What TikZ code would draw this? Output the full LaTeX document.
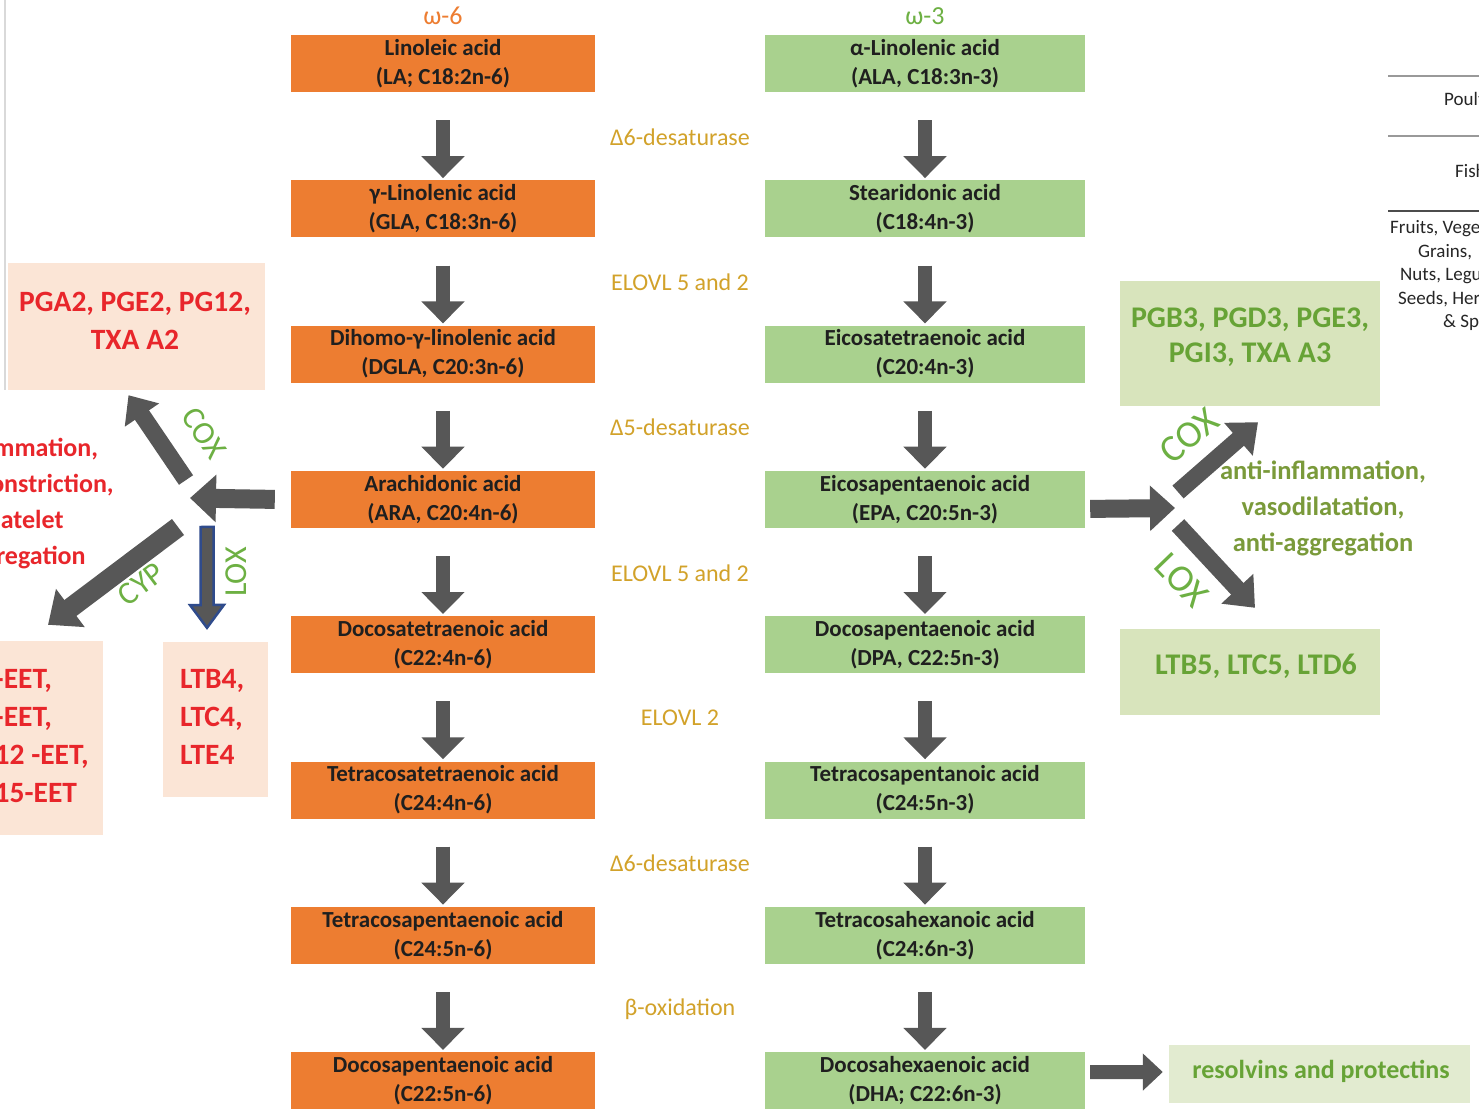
\documentclass[tikz,border=0pt]{standalone}
\usepackage{fontspec}
\setmainfont{Carlito}
\usetikzlibrary{arrows.meta}
\definecolor{obox}{HTML}{ED7D31}
\definecolor{gbox}{HTML}{A9D18E}
\definecolor{peach}{HTML}{FBE5D6}
\definecolor{lgbox}{HTML}{D8E4BC}
\definecolor{lgbox2}{HTML}{E2EBD0}
\definecolor{redtxt}{HTML}{E8262B}
\definecolor{grtxt}{HTML}{67A336}
\definecolor{olive}{HTML}{7A9A3A}
\definecolor{gold}{HTML}{D2A22A}
\definecolor{agray}{HTML}{575757}
\definecolor{enzg}{HTML}{6DB043}
\definecolor{loxblue}{HTML}{2F4B8C}
\definecolor{boxtxt}{HTML}{1F1F1F}
\tikzset{
  acidbox/.style={minimum height=57pt, inner sep=0pt, align=center, text=boxtxt,
     font=\bfseries\fontsize{23}{29}\selectfont},
  obx/.style={acidbox, fill=obox, minimum width=304pt},
  gbx/.style={acidbox, fill=gbox, minimum width=320pt},
  enz/.style={text=gold, font=\fontsize{24}{29}\selectfont},
  hdr/.style={font=\fontsize{26}{30}\selectfont},
  downarr/.style={draw=agray, line width=14pt, -{Triangle[width=42pt,length=22pt]}, shorten >=2pt},
  blk/.style={draw=agray, line width=18pt, -{Triangle[width=44pt,length=25pt]}},
  prodbox/.style={inner sep=0pt},
  redlbl/.style={text=redtxt, font=\bfseries\fontsize{29.5}{38}\selectfont, inner sep=0pt},
  grlbl/.style={text=grtxt, font=\bfseries\fontsize{30}{35}\selectfont, inner sep=0pt},
  enzlbl/.style={text=enzg, font=\fontsize{32}{34}\selectfont},
  tbl/.style={font=\fontsize{19}{23}\selectfont, text=black!85, inner sep=0pt, anchor=west},
}
\begin{document}
\begin{tikzpicture}[x=1pt,y=-1pt]
\useasboundingbox (0,0) rectangle (1479,1112);
\clip (0,0) rectangle (1479,1112);
\fill[white] (0,0) rectangle (1479,1112);
\draw[black!15, line width=2pt] (5,0) -- (5,390);

% headers
\node[hdr, text=obox] (h6) at (443,16) {ω-6};
\node[hdr, text=enzg] (h3) at (925,16) {ω-3};

% omega-6 column
\foreach \ta/\tb [count=\i] in {
  {Linoleic acid}/{(LA; C18:2n-6)},
  {γ-Linolenic acid}/{(GLA, C18:3n-6)},
  {Dihomo-γ-linolenic acid}/{(DGLA, C20:3n-6)},
  {Arachidonic acid}/{(ARA, C20:4n-6)},
  {Docosatetraenoic acid}/{(C22:4n-6)},
  {Tetracosatetraenoic acid}/{(C24:4n-6)},
  {Tetracosapentaenoic acid}/{(C24:5n-6)},
  {Docosapentaenoic acid}/{(C22:5n-6)}}
  {\node[obx] (o\i) at (443,{63.5+145.3*(\i-1)}) {\ta\\\tb};}

% omega-3 column
\foreach \ta/\tb [count=\i] in {
  {α-Linolenic acid}/{(ALA, C18:3n-3)},
  {Stearidonic acid}/{(C18:4n-3)},
  {Eicosatetraenoic acid}/{(C20:4n-3)},
  {Eicosapentaenoic acid}/{(EPA, C20:5n-3)},
  {Docosapentaenoic acid}/{(DPA, C22:5n-3)},
  {Tetracosapentanoic acid}/{(C24:5n-3)},
  {Tetracosahexanoic acid}/{(C24:6n-3)},
  {Docosahexaenoic acid}/{(DHA; C22:6n-3)}}
  {\node[gbx] (g\i) at (925,{63.5+145.3*(\i-1)}) {\ta\\\tb};}

% enzymes
\foreach \t [count=\i] in {Δ6-desaturase, ELOVL 5 and 2, Δ5-desaturase, ELOVL 5 and 2, ELOVL 2, Δ6-desaturase, β-oxidation}
  {\node[enz] (e\i) at (680,{137+145.3*(\i-1)}) {\t};}

% down arrows
\foreach \i in {1,...,7}{
  \pgfmathtruncatemacro{\j}{\i+1}
  \draw[downarr] ([yshift=-28pt]o\i.south) -- (o\j.north);
  \draw[downarr] ([yshift=-28pt]g\i.south) -- (g\j.north);
}

% ---------- left side (omega-6 products) ----------
\node[prodbox, fill=peach, minimum width=257pt, minimum height=127pt] (pga) at (136.5,326.5) {};
\node[redlbl, align=center] (pgat) at (135,321) {PGA2, PGE2, PG12,\\TXA A2};
\node[prodbox, fill=peach, minimum width=153pt, minimum height=194pt] (eet) at (26.5,738) {};
\node[redlbl, align=left, anchor=west] (eett) at (-43,737) {5,6-EET,\\8,9-EET,\\11,12 -EET,\\14,15-EET};
\node[prodbox, fill=peach, minimum width=105pt, minimum height=155pt] (ltb) at (215.5,719.5) {};
\node[redlbl, align=left, anchor=west] (ltbt) at (180,717) {LTB4,\\LTC4,\\LTE4};
\node[align=center, text=redtxt, inner sep=0pt, font=\bfseries\fontsize{26}{36}\selectfont] (infl) at (22,504)
  {inflammation,\\vasoconstriction,\\platelet\\aggregation};

\coordinate (jl) at (190,498);
\coordinate (lcoxs) at (186,480);
\coordinate (lcyps) at (178,527);
\coordinate (lloxs) at (207,527);
\draw[blk, line width=19pt, -{Triangle[width=46pt,length=26pt]}] ([xshift=-16pt]o4.west) -- (jl);
\draw[blk, line width=17pt, -{Triangle[width=40pt,length=24pt]}] (lcoxs) -- ([xshift=-8pt,yshift=-5pt]pga.south);
\draw[blk, line width=20pt, -{Triangle[width=46pt,length=28pt]}] (lcyps) -- ([xshift=21.5pt,yshift=16pt]eet.north);
\draw[loxblue, line width=2.5pt, fill=agray, line join=miter]
  (lloxs) ++(-6.5,0) -- ++(0,78) -- ++(-10.5,0) -- ([xshift=-8.5pt,yshift=14pt]ltb.north)
  -- ++(17,-23) -- ++(-10.5,0) -- ++(0,-78) -- cycle;
\node[enzlbl, rotate=-56] (lcox) at (204,433) {COX};
\node[enzlbl, rotate=37] (lcyp) at (141,584) {CYP};
\node[enzlbl, rotate=90] (llox) at (236,572) {LOX};

% ---------- right side (omega-3 products) ----------
\node[prodbox, fill=lgbox, minimum width=260pt, minimum height=125pt] (pgb) at (1250,343.5) {};
\node[grlbl, align=center] (pgbt) at (1250,337) {PGB3, PGD3, PGE3,\\PGI3, TXA A3};
\node[prodbox, fill=lgbox, minimum width=260pt, minimum height=86pt] (ltbv) at (1250,672) {};
\node[grlbl] (ltbvt) at (1256,666) {LTB5, LTC5, LTD6};
\node[prodbox, fill=lgbox2, minimum width=301pt, minimum height=58pt] (res) at (1319.5,1074) {};
\node[text=grtxt, inner sep=0pt, font=\bfseries\fontsize{26}{30}\selectfont] (rest) at (1321,1071) {resolvins and protectins};
\node[align=center, text=olive, inner sep=0pt, font=\bfseries\fontsize{26.5}{36}\selectfont] (anti) at (1323,508)
  {anti-inflammation,\\vasodilatation,\\anti-aggregation};

\coordinate (jr) at (1175,508);
\coordinate (rcoxs) at (1178,492);
\coordinate (rloxs) at (1178,525);
\draw[blk] ([xshift=5pt,yshift=-9.5pt]g4.east) -- (jr);
\draw[blk, line width=17pt, -{Triangle[width=42pt,length=26pt]}] (rcoxs) -- ([xshift=8pt,yshift=-16pt]pgb.south);
\draw[blk, line width=17pt, -{Triangle[width=42pt,length=26pt]}] (rloxs) -- ([xshift=5pt,yshift=21pt]ltbv.north);
\draw[blk, line width=14pt, -{Triangle[width=36pt,length=20pt]}] ([xshift=5pt,yshift=8.5pt]g8.east) -- ([xshift=-6pt,yshift=2pt]res.west);
\node[enzlbl, font=\fontsize{38}{40}\selectfont, rotate=40] (rcox) at (1189,436) {COX};
\node[enzlbl, font=\fontsize{38}{40}\selectfont, rotate=-46] (rlox) at (1182,580) {LOX};

% ---------- table fragment (top right) ----------
\draw[black!40, line width=2pt] (1388,76) -- (1479,76);
\draw[black!40, line width=2pt] (1388,136) -- (1479,136);
\draw[black!70, line width=1.5pt] (1388,211) -- (1479,211);
\node[tbl] (t1) at (1444,100) {Poultry};
\node[tbl] (t2) at (1455,171) {Fish};
\node[tbl] (t3) at (1390,229) {Fruits, Vegetables,};
\node[tbl] (t4) at (1418,252) {Grains,};
\node[tbl] (t5) at (1400,276) {Nuts, Legumes,};
\node[tbl] (t6) at (1398,299) {Seeds, Herbs};
\node[tbl] (t7) at (1443,322) {\& Spices};
\end{tikzpicture}
\end{document}
